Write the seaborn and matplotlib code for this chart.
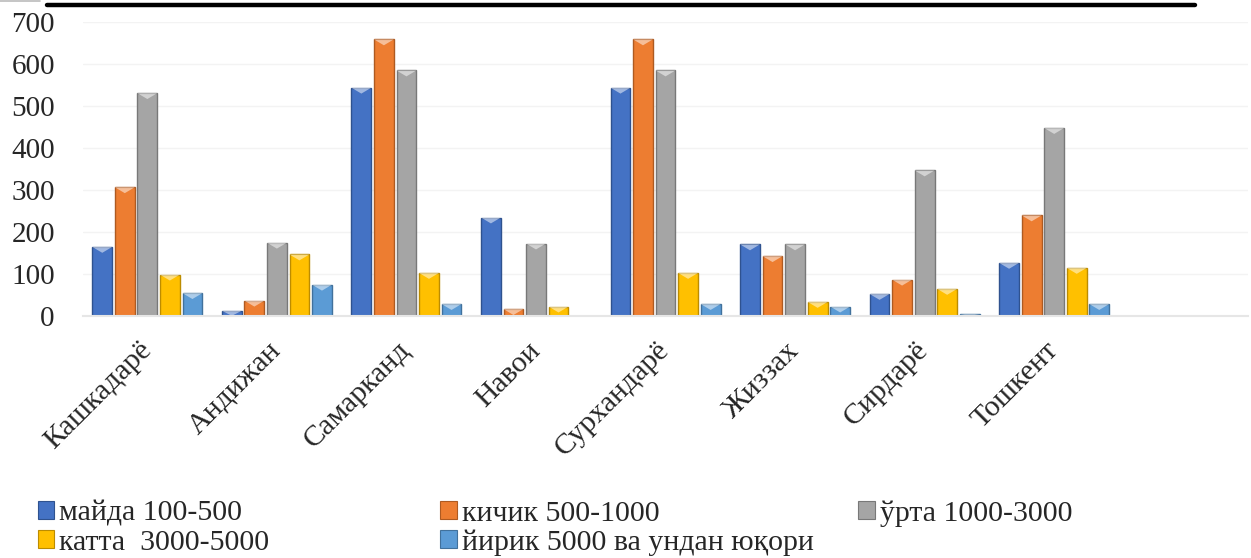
import numpy as np
import pandas as pd
import matplotlib
matplotlib.use("Agg")
import matplotlib.pyplot as plt
from matplotlib.patches import Polygon
from matplotlib.lines import Line2D
import seaborn as sns

# regions and size groups
regions = ['Кашкадарё', 'Андижан', 'Самарканд', 'Навои', 'Сурхандарё',
           'Жиззах', 'Сирдарё', 'Тошкент']
groups = ['майда 100-500', 'кичик 500-1000', 'ўрта 1000-3000',
          'катта  3000-5000', 'йирик 5000 ва ундан юқори']

maida = [164, 12, 543, 234, 543, 170, 52, 126]
kichik = [306, 36, 658, 16, 658, 142, 86, 239]
urta = [530, 174, 584, 172, 584, 170, 346, 447]
katta = [98, 146, 102, 22, 102, 33, 64, 114]
yirik = [54, 74, 28, 0, 28, 22, 4, 28]

colors = ['#4472C4', '#ED7D31', '#A5A5A5', '#FFC000', '#5B9BD5']
edges = ['#2F528F', '#AE5A21', '#787878', '#BC8C00', '#41719C']

df = pd.DataFrame({'region': regions * 5,
                   'group': np.repeat(groups, len(regions)),
                   'value': maida + kichik + urta + katta + yirik})

sns.set_style('white')
plt.rcParams['font.family'] = ['Liberation Serif', 'DejaVu Serif']

fig = plt.figure(figsize=(12.51, 5.58), dpi=100)
ax = fig.add_axes([0.066, 0.434, 0.932, 0.527])

sns.barplot(data=df, x='region', y='value', hue='group', order=regions,
            hue_order=groups, palette=colors, width=0.87, gap=0.12,
            ax=ax, legend=False, saturation=1)

# darker outline + light "pyramid" cap on each bar
for i, cont in enumerate(ax.containers):
    for p in cont.patches:
        p.set_edgecolor(edges[i])
        p.set_linewidth(1.0)
        x0, w, h = p.get_x(), p.get_width(), p.get_height()
        if h <= 0:
            continue
        d = min(14, h)
        tri = Polygon([[x0, h], [x0 + w, h], [x0 + w / 2, h - d]],
                      closed=True, facecolor='white', alpha=0.5,
                      edgecolor='none', zorder=p.get_zorder() + 1)
        ax.add_patch(tri)

ax.set_xlim(-0.5, 8.5)
ax.set_ylim(0, 700)
ax.set_yticks(range(0, 701, 100))
ax.yaxis.grid(True, color='#F3F3F3', linewidth=1)
ax.set_axisbelow(True)
for s in ['top', 'right', 'left']:
    ax.spines[s].set_visible(False)
ax.spines['bottom'].set_color('#E6E6E6')
ax.spines['bottom'].set_linewidth(1.5)
ax.set_xlabel('')
ax.set_ylabel('')
ax.tick_params(axis='y', length=0, pad=20, labelsize=21)
ax.tick_params(axis='x', length=0, pad=22)
ax.set_xticks(range(len(regions)))
ax.set_xticklabels(regions, rotation=45, ha='right', va='center',
                   rotation_mode='anchor', fontsize=21.5)

# legend: three columns placed like the original
handles = [plt.Rectangle((0, 0), 1, 1, facecolor=c, edgecolor=e, linewidth=0.8)
           for c, e in zip(colors, edges)]
cols = [[0, 3], [1, 4], [2]]
xs = [0.030, 0.352, 0.686]
for idx, xpos in zip(cols, xs):
    leg = fig.legend([handles[k] for k in idx], [groups[k] for k in idx],
                     loc='upper left', bbox_to_anchor=(xpos, 0.103),
                     frameon=False, fontsize=21.5, handlelength=0.55,
                     handleheight=0.55, handletextpad=0.18, labelspacing=0.1,
                     borderaxespad=0, borderpad=0)

# black rule at the top of the picture
fig.add_artist(Line2D([47 / 1251, 1195 / 1251], [1 - 5 / 558] * 2,
                      color='black', linewidth=3.2,
                      transform=fig.transFigure))
fig.add_artist(Line2D([0, 40 / 1251], [1 - 1 / 558] * 2,
                      color='#BBBBBB', linewidth=1.2,
                      transform=fig.transFigure))

fig.savefig('out.png', dpi=100)
